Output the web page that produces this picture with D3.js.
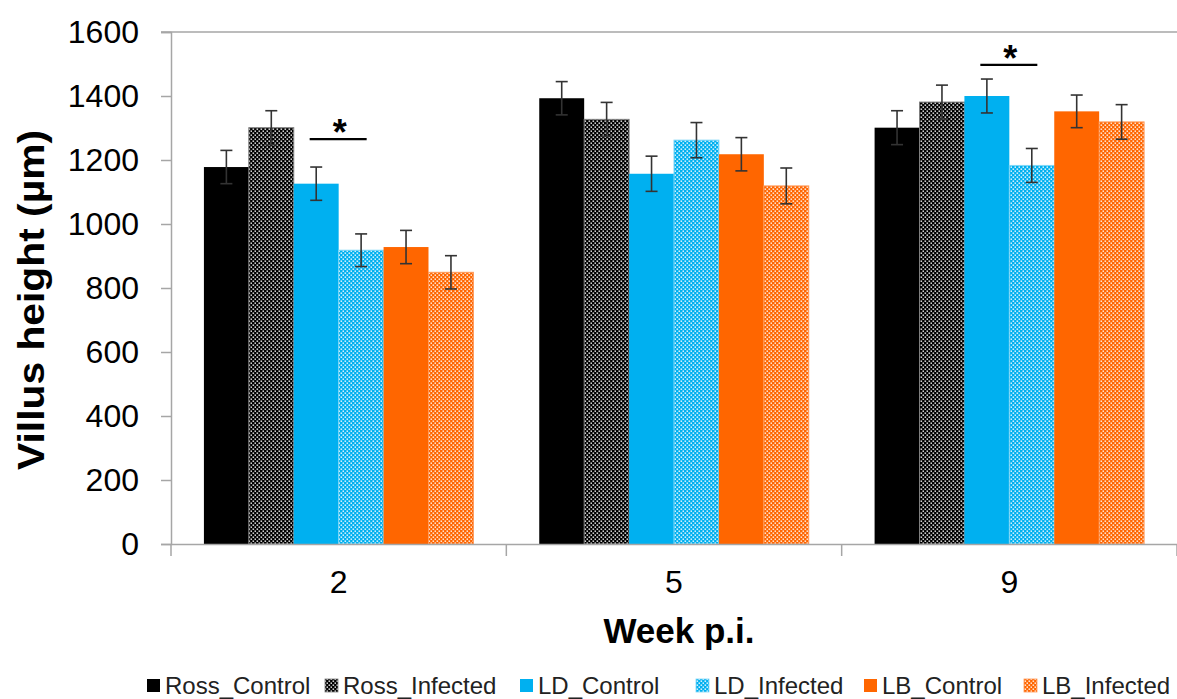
<!DOCTYPE html>
<html>
<head>
<meta charset="utf-8">
<script src="https://cdn.jsdelivr.net/npm/d3@7"></script>
<style>
  html, body { margin: 0; padding: 0; background: #fff; }
  svg { display: block; font-family: "Liberation Sans", Arial, sans-serif; }
</style>
</head>
<body>
<svg id="chart" width="1177" height="699"></svg>
<script>
// ---- data ----
const weeks = ["2", "5", "9"];
const seriesNames = ["Ross_Control", "Ross_Infected", "LD_Control", "LD_Infected", "LB_Control", "LB_Infected"];
const rossControl   = [1178, 1393, 1301];
const rossInfected  = [1301, 1327, 1381];
const ldControl     = [1126, 1157, 1400];
const ldInfected    = [918, 1262, 1183];
const lbControl     = [928, 1218, 1352];
const lbInfected    = [849, 1119, 1319];
const rossControlErr  = [52, 52, 53];
const rossInfectedErr = [53, 53, 53];
const ldControlErr    = [52, 55, 53];
const ldInfectedErr   = [51, 55, 53];
const lbControlErr    = [52, 52, 51];
const lbInfectedErr   = [52, 56, 54];
const yTicks = [0, 200, 400, 600, 800, 1000, 1200, 1400, 1600];
// significance brackets: week, level, label
const sigWeeks  = ["2", "9"];
const sigLevels = [1265, 1497];
const sigLabels = ["*", "*"];

const values = [rossControl, rossInfected, ldControl, ldInfected, lbControl, lbInfected];
const errors = [rossControlErr, rossInfectedErr, ldControlErr, ldInfectedErr, lbControlErr, lbInfectedErr];

// ---- styles ----
const baseColors = ["#000000", "#000000", "#00B0F0", "#00B0F0", "#FF6600", "#FF6600"];
const patterned  = [false, true, false, true, false, true];
const strokeCols = ["none", "#7f7f7f", "none", "#7fd7f7", "none", "#ff9a5a"];

(function () {
const svg = d3.select("#chart");
const mLeft = 171, mRight = 1177, mTop = 32, mBottom = 544;

const x = d3.scaleBand().domain(weeks).range([mLeft, mRight]).paddingInner(0).paddingOuter(0);
const xs = d3.scaleBand().domain(seriesNames).range([0, x.bandwidth()]).paddingInner(0).paddingOuter(0.733);
const y = d3.scaleLinear().domain([0, 1600]).range([mBottom, mTop]);

// patterns
const defs = svg.append("defs");
seriesNames.forEach((s, i) => {
  if (!patterned[i]) return;
  const p = defs.append("pattern").attr("id", "pat" + i).attr("patternUnits", "userSpaceOnUse")
    .attr("width", 4).attr("height", 4);
  p.append("rect").attr("width", 4).attr("height", 4).attr("fill", baseColors[i]);
  p.append("rect").attr("x", 0.5).attr("y", 0.5).attr("width", 1.6).attr("height", 1.3).attr("fill", "#fff");
  p.append("rect").attr("x", 2.5).attr("y", 2.5).attr("width", 1.6).attr("height", 1.3).attr("fill", "#fff");
});
const fillOf = i => patterned[i] ? `url(#pat${i})` : baseColors[i];

// top border line
svg.append("line").attr("x1", mLeft - 10).attr("x2", mRight).attr("y1", y(1600)).attr("y2", y(1600))
  .attr("stroke", "#a6a6a6").attr("stroke-width", 1.5);

// bars
seriesNames.forEach((s, i) => {
  svg.append("g").selectAll("rect").data(weeks).join("rect")
    .attr("x", w => x(w) + xs(s))
    .attr("y", (w, j) => y(values[i][j]))
    .attr("width", xs.bandwidth())
    .attr("height", (w, j) => y(0) - y(values[i][j]))
    .attr("fill", fillOf(i))
    .attr("stroke", strokeCols[i]).attr("stroke-width", 1);
});

// axes
const yAxis = d3.axisLeft(y).tickValues(yTicks).tickSize(10).tickPadding(22).tickFormat(d3.format("d"));
const gy = svg.append("g").attr("transform", `translate(${mLeft},0)`).call(yAxis);
gy.select(".domain").attr("stroke", "#a6a6a6").attr("stroke-width", 1.5);
gy.selectAll(".tick line").attr("stroke", "#a6a6a6").attr("stroke-width", 1.5);
gy.selectAll(".tick text").attr("font-size", 32).attr("fill", "#000").attr("font-family", "Liberation Sans, Arial, sans-serif");

const xAxis = d3.axisBottom(x).tickSize(0).tickPadding(26);
const gx = svg.append("g").attr("transform", `translate(0,${mBottom})`).call(xAxis);
gx.select(".domain").attr("stroke", "#a6a6a6").attr("stroke-width", 1.5);
gx.selectAll(".tick text").attr("font-size", 32).attr("fill", "#000").attr("font-family", "Liberation Sans, Arial, sans-serif");
// category boundary ticks
const bounds = weeks.map(w => x(w)).concat([mRight]);
svg.append("g").selectAll("line").data(bounds).join("line")
  .attr("x1", d => d).attr("x2", d => d).attr("y1", mBottom).attr("y2", mBottom + 12)
  .attr("stroke", "#a6a6a6").attr("stroke-width", 1.5);

// error bars
const capW = 12;
seriesNames.forEach((s, i) => {
  const g = svg.append("g").attr("stroke", "#333").attr("stroke-width", 1.6);
  weeks.forEach((w, j) => {
    const cx = x(w) + xs(s) + xs.bandwidth() / 2;
    const hi = y(values[i][j] + errors[i][j]), lo = y(values[i][j] - errors[i][j]);
    g.append("line").attr("x1", cx).attr("x2", cx).attr("y1", hi).attr("y2", lo);
    g.append("line").attr("x1", cx - capW/2).attr("x2", cx + capW/2).attr("y1", hi).attr("y2", hi);
    g.append("line").attr("x1", cx - capW/2).attr("x2", cx + capW/2).attr("y1", lo).attr("y2", lo);
  });
});

// significance
sigWeeks.forEach((w, k) => {
  const cx = x(w) + x.bandwidth() / 2;
  const yy = y(sigLevels[k]);
  svg.append("line").attr("x1", cx - 29).attr("x2", cx + 28).attr("y1", yy).attr("y2", yy)
    .attr("stroke", "#000").attr("stroke-width", 2.2);
  svg.append("text").attr("x", cx + 1).attr("y", yy + 6).attr("text-anchor", "middle")
    .attr("font-size", 36).attr("font-weight", "bold").text(sigLabels[k]);
});

// axis titles
svg.append("text").attr("transform", `translate(44,${(mTop + mBottom) / 2 + 12}) rotate(-90)`)
  .attr("text-anchor", "middle").attr("font-size", 37).attr("font-weight", "bold")
  .attr("textLength", 340).attr("lengthAdjust", "spacingAndGlyphs").text("Villus height (µm)");
svg.append("text").attr("x", 679).attr("y", 643).attr("text-anchor", "middle")
  .attr("font-size", 35).attr("font-weight", "bold").text("Week p.i.");

// legend
const legX = [147, 325, 520, 696, 864, 1024];
const legY = 685;
const lg = svg.append("g");
seriesNames.forEach((s, i) => {
  lg.append("rect").attr("x", legX[i]).attr("y", legY - 6).attr("width", 13).attr("height", 13)
    .attr("fill", fillOf(i)).attr("stroke", strokeCols[i]).attr("stroke-width", 0.8);
  lg.append("text").attr("x", legX[i] + 18).attr("y", legY + 8.5).attr("font-size", 24)
    .attr("fill", "#222").text(s);
});
})();
</script>
</body>
</html>
